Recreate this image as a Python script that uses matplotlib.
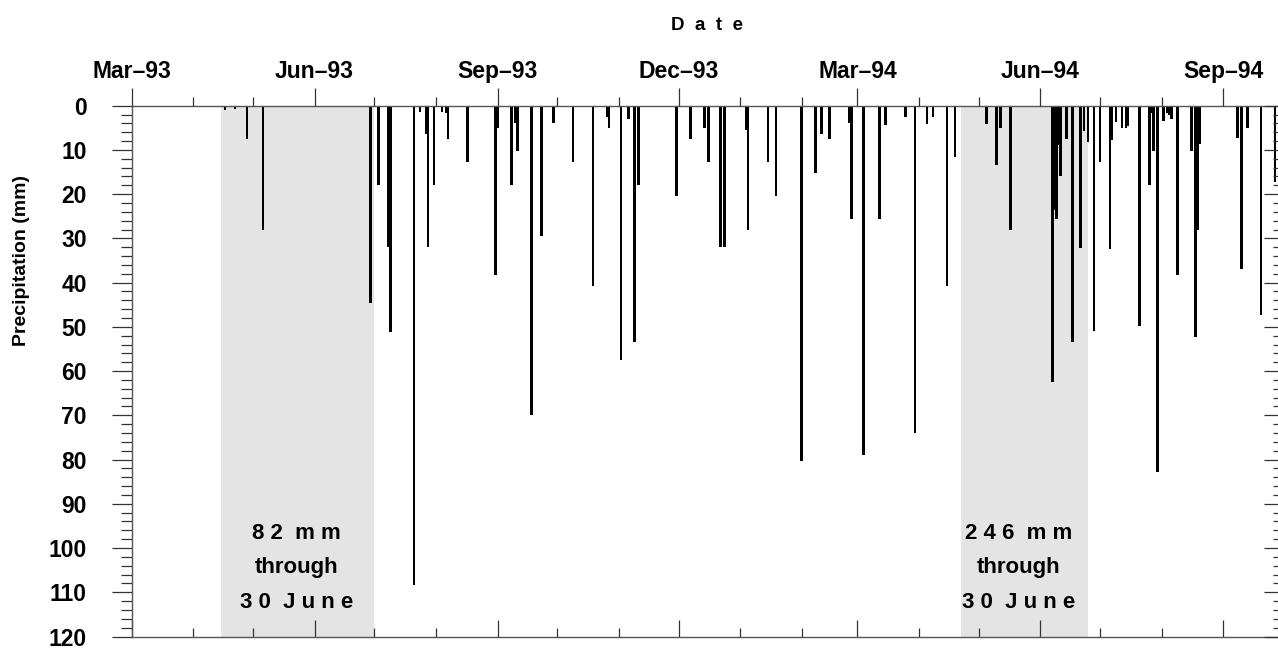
import matplotlib
matplotlib.use("Agg")
import matplotlib.pyplot as plt
import matplotlib.dates as mdates
from matplotlib.ticker import MultipleLocator
import pandas as pd

plt.rcParams['font.family'] = ['Liberation Sans', 'DejaVu Sans']
plt.rcParams['font.weight'] = 'bold'

# daily precipitation events (date, mm)
rain_dates = [
    "1993-04-17", "1993-04-22", "1993-04-28", "1993-05-06", "1993-06-29", "1993-07-03", "1993-07-08", "1993-07-09",
    "1993-07-21", "1993-07-24", "1993-07-27", "1993-07-28", "1993-07-31", "1993-08-04", "1993-08-06", "1993-08-07",
    "1993-08-17", "1993-08-31", "1993-09-01", "1993-09-08", "1993-09-10", "1993-09-11", "1993-09-18", "1993-09-23",
    "1993-09-29", "1993-10-09", "1993-10-19", "1993-10-26", "1993-10-27", "1993-11-02", "1993-11-06", "1993-11-09",
    "1993-11-11", "1993-11-30", "1993-12-07", "1993-12-14", "1993-12-16", "1993-12-22", "1993-12-24",
    "1994-01-04", "1994-01-05", "1994-01-15", "1994-01-19", "1994-02-01", "1994-02-08", "1994-02-11", "1994-02-15",
    "1994-02-25", "1994-02-26", "1994-03-04", "1994-03-12", "1994-03-15", "1994-03-25", "1994-03-30",
    "1994-04-05", "1994-04-08", "1994-04-15", "1994-04-19", "1994-05-05", "1994-05-10", "1994-05-12", "1994-05-17",
    "1994-06-07", "1994-06-08", "1994-06-09", "1994-06-10", "1994-06-11", "1994-06-14", "1994-06-17", "1994-06-21",
    "1994-06-23", "1994-06-25", "1994-06-28", "1994-07-01", "1994-07-06", "1994-07-07", "1994-07-09", "1994-07-12",
    "1994-07-14", "1994-07-15", "1994-07-21", "1994-07-26", "1994-07-27", "1994-07-28", "1994-07-30",
    "1994-08-02", "1994-08-04", "1994-08-05", "1994-08-06", "1994-08-09", "1994-08-16", "1994-08-18", "1994-08-19",
    "1994-08-20", "1994-09-08", "1994-09-10", "1994-09-13", "1994-09-20", "1994-09-27",
]
rain_mm = [
    1.0, 0.8, 7.5, 28.1, 44.7, 17.9, 31.9, 51.1,
    108.4, 1.4, 6.5, 31.9, 17.9, 1.4, 1.6, 7.6,
    12.8, 38.3, 5.1, 17.9, 3.8, 10.3, 70.0, 29.4,
    3.8, 12.8, 40.7, 2.5, 5.1, 57.4, 3.1, 53.5,
    17.9, 20.4, 7.6, 5.1, 12.8, 31.9, 31.9,
    5.5, 28.0, 12.8, 20.4, 80.3, 15.3, 6.5, 7.6,
    3.8, 25.6, 79.0, 25.6, 4.4, 2.5, 73.9,
    4.1, 2.5, 40.7, 11.5, 4.1, 13.3, 5.1, 28.0,
    62.4, 23.6, 25.6, 8.9, 15.9, 7.5, 53.5, 32.1,
    5.7, 8.3, 51.0, 12.8, 32.4, 7.7, 3.6, 5.1,
    5.1, 4.5, 49.8, 17.9, 1.7, 10.3, 82.8,
    3.4, 1.7, 2.1, 3.1, 38.2, 10.3, 52.3, 28.1,
    8.7, 7.2, 36.9, 5.1, 47.3, 17.2,
]

# shaded spring periods and their totals
shade_start = ["1993-04-15", "1994-04-22"]
shade_end = ["1993-07-01", "1994-06-25"]
note_dates = ["1993-05-23", "1994-05-21"]
note_texts = ["8 2  m m\nthrough\n3 0  J u n e", "2 4 6  m m\nthrough\n3 0  J u n e"]

x_start, x_end = "1993-03-01", "1994-10-01"

spine_col = '#555555'
tick_col = '#333333'

fig = plt.figure(figsize=(12.78, 6.49), dpi=100)
ax = fig.add_axes([0.10305, 0.01926, 0.90086, 0.81787])
ax_top = ax.twiny()
ax_right = ax.twinx()

for s, e in zip(shade_start, shade_end):
    ax.axvspan(pd.Timestamp(s), pd.Timestamp(e), color='#e4e4e4', lw=0, zorder=0)

ax.bar(pd.to_datetime(rain_dates), rain_mm, width=1.35, color='black', linewidth=0, zorder=2)

for d, t in zip(note_dates, note_texts):
    ax.text(pd.Timestamp(d), 104.5, t, ha='center', va='center', fontsize=16,
            fontweight='bold', linespacing=1.85, zorder=3)

ax.set_xlim(pd.Timestamp(x_start), pd.Timestamp(x_end))
ax.set_ylim(120, 0)

# bottom / left
ax.xaxis.set_major_locator(mdates.MonthLocator(bymonth=[3, 6, 9, 12]))
ax.xaxis.set_minor_locator(mdates.MonthLocator())
ax.yaxis.set_major_locator(MultipleLocator(10))
ax.yaxis.set_minor_locator(MultipleLocator(2))
ax.tick_params(axis='x', which='both', direction='in', bottom=True, top=False,
               labelbottom=False, color=tick_col, width=0.9)
ax.tick_params(axis='x', which='major', length=12.5)
ax.tick_params(axis='x', which='minor', length=6.5)
ax.tick_params(axis='y', which='both', direction='out', left=True, right=False,
               labelsize=16.5, pad=18, color=tick_col, width=0.9)
ax.tick_params(axis='y', which='major', length=14.4)
ax.tick_params(axis='y', which='minor', length=8)
for sp in ax.spines.values():
    sp.set_color(spine_col)
    sp.set_linewidth(1.0)

ax.set_ylabel('Precipitation (mm)', fontsize=14, fontweight='bold')
ax.yaxis.set_label_coords(-0.088, 0.709)

# top axis with date labels
ax_top.set_xlim(ax.get_xlim())
ax_top.xaxis.set_major_locator(mdates.MonthLocator(bymonth=[3, 6, 9, 12]))
ax_top.xaxis.set_minor_locator(mdates.MonthLocator())
ax_top.xaxis.set_major_formatter(mdates.DateFormatter('%b\u2013%y'))
ax_top.tick_params(axis='x', which='both', direction='out', top=True, bottom=False,
                   labeltop=True, labelbottom=False, labelsize=16.5, pad=3,
                   color=tick_col, width=0.9)
ax_top.tick_params(axis='x', which='major', length=13)
ax_top.tick_params(axis='x', which='minor', length=6.5)
ax_top.set_xlabel('D  a  t  e', fontsize=13.5, fontweight='bold')
ax_top.xaxis.set_label_coords(0.5, 1.152)
ax_top.xaxis.label.set_va('center')

# right axis, ticks only
ax_right.set_ylim(120, 0)
ax_right.yaxis.set_major_locator(MultipleLocator(10))
ax_right.yaxis.set_minor_locator(MultipleLocator(2))
ax_right.tick_params(axis='y', which='both', direction='in', right=True, left=False,
                     labelright=False, color=tick_col, width=0.9)
ax_right.tick_params(axis='y', which='major', length=13.7)
ax_right.tick_params(axis='y', which='minor', length=7.2)

for a in (ax_top, ax_right):
    for sp in a.spines.values():
        sp.set_visible(False)

fig.savefig('out.png', dpi=100)
